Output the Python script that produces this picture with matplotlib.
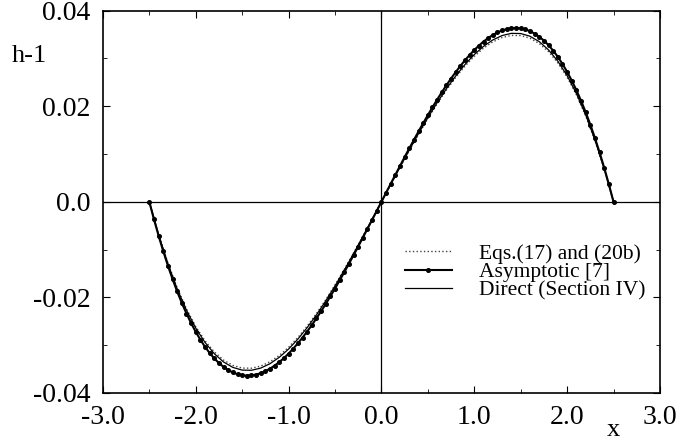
import matplotlib
matplotlib.use("Agg")
import matplotlib.pyplot as plt
from matplotlib.ticker import MultipleLocator

plt.rcParams['font.family'] = ['Liberation Serif', 'DejaVu Serif']

x = [-2.5, -2.4, -2.3, -2.2, -2.1, -2.0, -1.9, -1.8, -1.7, -1.6, -1.5,
     -1.4, -1.3, -1.2, -1.1, -1.0, -0.9, -0.8, -0.7, -0.6, -0.5, -0.4,
     -0.3, -0.2, -0.1, 0.0, 0.1, 0.2, 0.3, 0.4, 0.5, 0.6, 0.7, 0.8, 0.9,
     1.0, 1.1, 1.2, 1.3, 1.4, 1.5, 1.6, 1.7, 1.8, 1.9, 2.0, 2.1, 2.2,
     2.3, 2.4, 2.5]

# Eqs.(17) and (20b)
h_eqs = [0.0, -0.00682, -0.01281, -0.01799, -0.02241, -0.02610, -0.02909,
         -0.03142, -0.03313, -0.03424, -0.03480, -0.03483, -0.03438,
         -0.03348, -0.03216, -0.03045, -0.02840, -0.02603, -0.02339,
         -0.02050, -0.01740, -0.01413, -0.01072, -0.00720, -0.00362, 0.0,
         0.00362, 0.00720, 0.01072, 0.01413, 0.01740, 0.02050, 0.02339,
         0.02603, 0.02840, 0.03045, 0.03216, 0.03348, 0.03438, 0.03483,
         0.03480, 0.03424, 0.03313, 0.03142, 0.02909, 0.02610, 0.02241,
         0.01799, 0.01281, 0.00682, 0.0]

# Direct (Section IV)
h_direct = [0.0, -0.00690, -0.01296, -0.01821, -0.02268, -0.02642, -0.02944,
            -0.03180, -0.03353, -0.03466, -0.03522, -0.03526, -0.03480,
            -0.03388, -0.03254, -0.03082, -0.02874, -0.02634, -0.02367,
            -0.02074, -0.01761, -0.01430, -0.01085, -0.00729, -0.00366, 0.0,
            0.00366, 0.00729, 0.01085, 0.01430, 0.01761, 0.02074, 0.02367,
            0.02634, 0.02874, 0.03082, 0.03254, 0.03388, 0.03480, 0.03526,
            0.03522, 0.03466, 0.03353, 0.03180, 0.02944, 0.02642, 0.02268,
            0.01821, 0.01296, 0.00690, 0.0]

# Asymptotic [7] (denser points, one marker each)
x_asym = [-2.5, -2.45, -2.4, -2.35, -2.3, -2.25, -2.2, -2.15, -2.1, -2.05,
          -2.0, -1.95, -1.9, -1.85, -1.8, -1.75, -1.7, -1.65, -1.6, -1.55,
          -1.5, -1.45, -1.4, -1.35, -1.3, -1.25, -1.2, -1.15, -1.1, -1.05,
          -1.0, -0.95, -0.9, -0.85, -0.8, -0.75, -0.7, -0.65, -0.6, -0.55,
          -0.5, -0.45, -0.4, -0.35, -0.3, -0.25, -0.2, -0.15, -0.1, -0.05,
          0.0, 0.05, 0.1, 0.15, 0.2, 0.25, 0.3, 0.35, 0.4, 0.45,
          0.5, 0.55, 0.6, 0.65, 0.7, 0.75, 0.8, 0.85, 0.9, 0.95,
          1.0, 1.05, 1.1, 1.15, 1.2, 1.25, 1.3, 1.35, 1.4, 1.45,
          1.5, 1.55, 1.6, 1.65, 1.7, 1.75, 1.8, 1.85, 1.9, 1.95,
          2.0, 2.05, 2.1, 2.15, 2.2, 2.25, 2.3, 2.35, 2.4, 2.45, 2.5]
h_asym = [0.0, -0.00367, -0.00711, -0.01034, -0.01336, -0.01616, -0.01877,
          -0.02117, -0.02338, -0.02539, -0.02722, -0.02887, -0.03035,
          -0.03165, -0.03278, -0.03375, -0.03456, -0.03521, -0.03572,
          -0.03608, -0.03630, -0.03638, -0.03634, -0.03616, -0.03586,
          -0.03545, -0.03492, -0.03428, -0.03354, -0.03270, -0.03176,
          -0.03073, -0.02962, -0.02842, -0.02715, -0.02581, -0.02439,
          -0.02292, -0.02138, -0.01979, -0.01815, -0.01646, -0.01474,
          -0.01297, -0.01118, -0.00936, -0.00751, -0.00565, -0.00378,
          -0.00189, 0.0,
          0.00189, 0.00378, 0.00565, 0.00751, 0.00936, 0.01118, 0.01297,
          0.01474, 0.01646, 0.01815, 0.01979, 0.02138, 0.02292, 0.02439,
          0.02581, 0.02715, 0.02842, 0.02962, 0.03073, 0.03176, 0.03270,
          0.03354, 0.03428, 0.03492, 0.03545, 0.03586, 0.03616, 0.03634,
          0.03638, 0.03630, 0.03608, 0.03572, 0.03521, 0.03456, 0.03375,
          0.03278, 0.03165, 0.03035, 0.02887, 0.02722, 0.02539, 0.02338,
          0.02117, 0.01877, 0.01616, 0.01336, 0.01034, 0.00711, 0.00367,
          0.0]

fig = plt.figure(figsize=(6.86, 4.46), dpi=100)
ax = fig.add_axes([0.150, 0.119, 0.812, 0.857])

ax.axhline(0, color='black', lw=0.9)
ax.axvline(0, color='black', lw=0.9)

ax.plot(x, h_eqs, ':', color='#444444', lw=1.0, label='Eqs.(17) and (20b)')
ax.plot(x_asym, h_asym, '-', color='black', lw=1.5, marker='o',
        markersize=2.6, label='Asymptotic [7]')
ax.plot(x, h_direct, '-', color='black', lw=0.9, label='Direct (Section IV)')

ax.set_xlim(-3.0, 3.0)
ax.set_ylim(-0.04, 0.04)
ax.xaxis.set_minor_locator(MultipleLocator(0.5))
ax.yaxis.set_minor_locator(MultipleLocator(0.01))
ax.set_xticks([-3, -2, -1, 0, 1, 2, 3])
ax.set_xticklabels(['-3.0', '-2.0', '-1.0', '0.0', '1.0', '2.0', '3.0'])
ax.set_yticks([-0.04, -0.02, 0.0, 0.02, 0.04])
ax.set_yticklabels(['-0.04', '-0.02', '0.0', '0.02', '0.04'])
ax.tick_params(which='both', direction='in', top=True, right=True,
               labelsize=20)
ax.tick_params(which='major', length=5, pad=9)
ax.tick_params(which='minor', length=3)
for s in ax.spines.values():
    s.set_linewidth(1.2)

fig.text(0.017, 0.86, 'h-1', fontsize=19)
fig.text(0.885, 0.012, 'x', fontsize=19, va='bottom')

ax.legend(loc='upper left', bbox_to_anchor=(0.542, 0.39), frameon=False,
          fontsize=15.5, handlelength=2.2, handletextpad=1.25,
          labelspacing=-0.08, borderpad=0, borderaxespad=0)

fig.savefig('out.png', dpi=100)
